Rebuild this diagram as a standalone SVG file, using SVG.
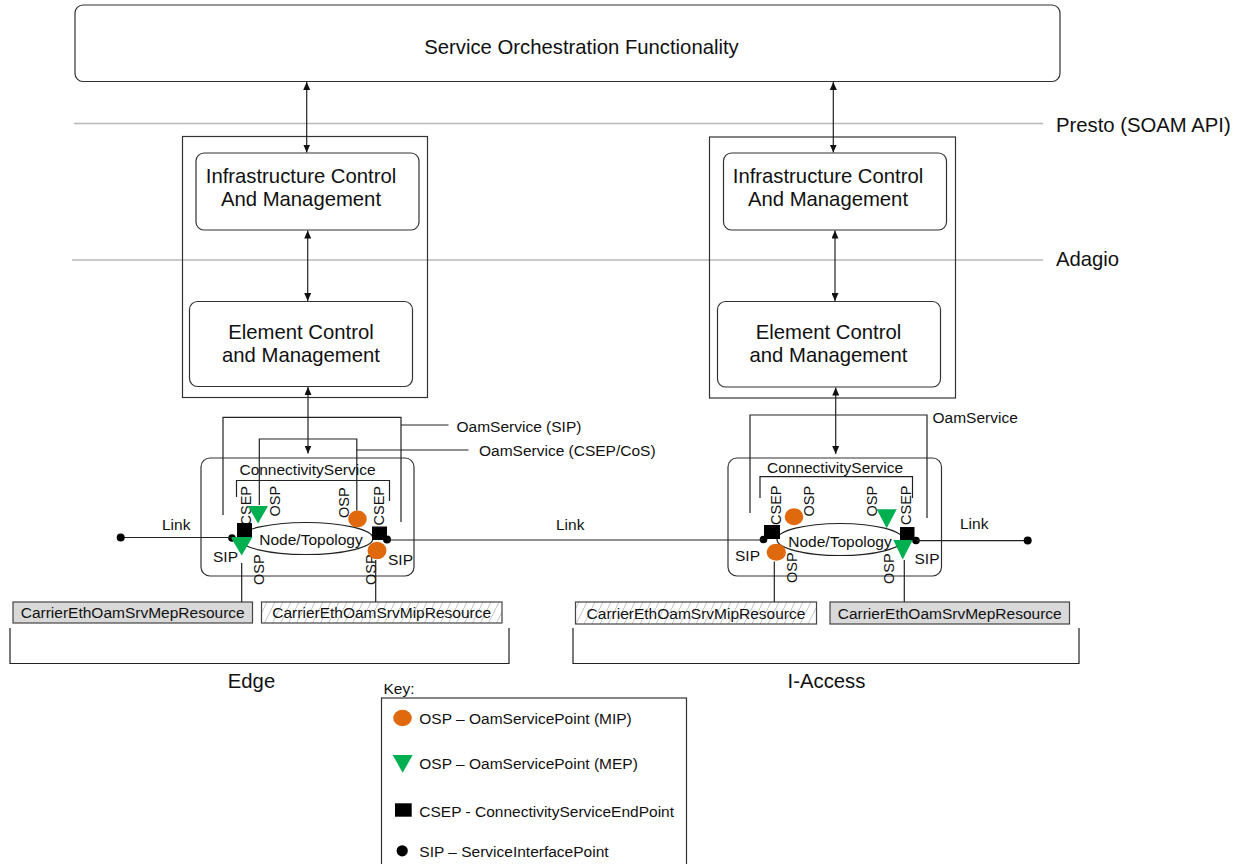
<svg xmlns="http://www.w3.org/2000/svg" width="1243" height="864" viewBox="0 0 1243 864">
<style>
text{font-family:"Liberation Sans",Arial,sans-serif;fill:#111}
.big{font-size:20.3px}
.sm{font-size:15.5px}
.rot{font-size:14.5px}
.box{fill:#fff;stroke:#333;stroke-width:1.2}
.ln{fill:none;stroke:#222;stroke-width:1.2}
.gl{fill:none;stroke:#b8b8b8;stroke-width:1.5}
.arr{fill:none;stroke:#222;stroke-width:1.2;marker-start:url(#ah);marker-end:url(#ah)}
.mip{fill:#e0690e}
.mep{fill:#00b050}
.blk{fill:#000}
.mepres{fill:#d9d9d9;stroke:#444;stroke-width:1.2}
.mipres{fill:url(#hatch);stroke:#444;stroke-width:1.2}
</style>
<defs>
<marker id="ah" viewBox="0 0 8 7" refX="8" refY="3.5" markerWidth="8" markerHeight="7" markerUnits="userSpaceOnUse" orient="auto-start-reverse">
<path d="M0,0 L8,3.5 L0,7 z" fill="#111"/>
</marker>
<pattern id="hatch" width="8" height="16" patternUnits="userSpaceOnUse">
<rect width="8" height="16" fill="#fff"/>
<path d="M0,16 L8,0" stroke="#c4c4c4" stroke-width="1"/>
</pattern>
</defs>

<g id="sof">
<rect class="box" x="75" y="5" width="985" height="76.5" rx="8"/>
<text class="big" x="581.5" y="54" text-anchor="middle">Service Orchestration Functionality</text>
</g>

<g id="interfaces">
<line class="gl" x1="74" y1="123.5" x2="1043" y2="123.5"/>
<text class="big" x="1056" y="132">Presto (SOAM API)</text>
<line class="gl" x1="72" y1="260" x2="1043" y2="260"/>
<text class="big" x="1056" y="266">Adagio</text>
</g>

<g id="edge-system">
<rect x="182.5" y="136.5" width="245" height="261" fill="none" stroke="#333" stroke-width="1.2"/>
</g>
<g id="edge-icm">
<rect class="box" x="196" y="153" width="223" height="77" rx="8"/>
<text class="big" x="301" y="182.5" text-anchor="middle">Infrastructure Control</text>
<text class="big" x="301" y="206" text-anchor="middle">And Management</text>
</g>
<g id="edge-ecm">
<rect class="box" x="189.5" y="301.5" width="223" height="85" rx="8"/>
<text class="big" x="301" y="338.5" text-anchor="middle">Element Control</text>
<text class="big" x="301" y="362" text-anchor="middle">and Management</text>
</g>

<g id="iaccess-system">
<rect x="709.5" y="137" width="246" height="261" fill="none" stroke="#333" stroke-width="1.2"/>
</g>
<g id="iaccess-icm">
<rect class="box" x="723.5" y="153" width="223" height="77" rx="8"/>
<text class="big" x="828" y="182.5" text-anchor="middle">Infrastructure Control</text>
<text class="big" x="828" y="206" text-anchor="middle">And Management</text>
</g>
<g id="iaccess-ecm">
<rect class="box" x="717.5" y="301.5" width="223" height="85.5" rx="8"/>
<text class="big" x="828.5" y="338.5" text-anchor="middle">Element Control</text>
<text class="big" x="828.5" y="362" text-anchor="middle">and Management</text>
</g>

<g id="edge-cs">
<rect class="box" x="201" y="458" width="213" height="118" rx="9"/>
<text class="sm" x="307.5" y="475" text-anchor="middle">ConnectivityService</text>
<path class="ln" d="M236.5,497 V480.5 H389.5 V501"/>
<ellipse cx="306" cy="538.5" rx="67" ry="16" fill="#fff" stroke="#222" stroke-width="1.2"/>
<text class="sm" x="311" y="545" text-anchor="middle">Node/Topology</text>
<circle class="blk" cx="232" cy="538" r="3.8"/>
<circle class="blk" cx="387" cy="539.5" r="4"/>
<text class="rot" transform="translate(250.5,525.5) rotate(-90)">CSEP</text>
<text class="rot" transform="translate(279.5,516.5) rotate(-90)">OSP</text>
<text class="rot" transform="translate(348.5,518) rotate(-90)">OSP</text>
<text class="rot" transform="translate(383.5,525.5) rotate(-90)">CSEP</text>
<text class="rot" transform="translate(263.5,585) rotate(-90)">OSP</text>
<text class="rot" transform="translate(375.5,585) rotate(-90)">OSP</text>
<text class="sm" x="213" y="562">SIP</text>
<text class="sm" x="388" y="565">SIP</text>
<rect class="blk" x="237" y="523" width="15" height="14"/>
<rect class="blk" x="372" y="526.5" width="15" height="13.5"/>
<path class="mep" d="M248,506 L268,506 L258,523.5 z"/>
<path class="mep" d="M230.5,537 L252.5,537 L241.7,555.5 z"/>
<ellipse class="mip" cx="357.5" cy="519" rx="9.3" ry="8.5"/>
<ellipse class="mip" cx="377" cy="550.5" rx="9.5" ry="8.8"/>
</g>

<g id="iaccess-cs">
<rect class="box" x="728" y="458" width="213.5" height="118" rx="9"/>
<text class="sm" x="835" y="472.5" text-anchor="middle">ConnectivityService</text>
<path class="ln" d="M760,498 V476.7 H912.5 V498"/>
<ellipse cx="840" cy="539.5" rx="63" ry="16" fill="#fff" stroke="#222" stroke-width="1.2"/>
<text class="sm" x="840" y="546.5" text-anchor="middle">Node/Topology</text>
<circle class="blk" cx="763.5" cy="539.5" r="3.8"/>
<circle class="blk" cx="916" cy="540.5" r="3.8"/>
<text class="rot" transform="translate(780.5,525) rotate(-90)">CSEP</text>
<text class="rot" transform="translate(813.5,516.5) rotate(-90)">OSP</text>
<text class="rot" transform="translate(877,516.5) rotate(-90)">OSP</text>
<text class="rot" transform="translate(911,525) rotate(-90)">CSEP</text>
<text class="rot" transform="translate(797,583) rotate(-90)">OSP</text>
<text class="rot" transform="translate(893.5,584) rotate(-90)">OSP</text>
<text class="sm" x="735" y="560.5">SIP</text>
<text class="sm" x="914.5" y="563.5">SIP</text>
<rect class="blk" x="764" y="525" width="16" height="14"/>
<rect class="blk" x="900" y="527" width="14.5" height="13"/>
<ellipse class="mip" cx="794" cy="516.7" rx="9.3" ry="8.5"/>
<ellipse class="mip" cx="776.3" cy="552.3" rx="9.6" ry="8.5"/>
<path class="mep" d="M876.7,509.3 L896.7,509.3 L886.7,528.3 z"/>
<path class="mep" d="M893.3,540 L912.7,540 L902.7,559.5 z"/>
</g>

<g id="edge-mep-resource">
<rect class="mepres" x="13" y="602" width="239.5" height="21"/>
<text class="sm" x="132.7" y="618" text-anchor="middle">CarrierEthOamSrvMepResource</text>
</g>
<g id="edge-mip-resource">
<rect class="mipres" x="261.5" y="602" width="240.5" height="21"/>
<text class="sm" x="381.7" y="618" text-anchor="middle">CarrierEthOamSrvMipResource</text>
</g>
<g id="iaccess-mip-resource">
<rect class="mipres" x="575.5" y="602" width="241" height="22"/>
<text class="sm" x="696" y="618.5" text-anchor="middle">CarrierEthOamSrvMipResource</text>
</g>
<g id="iaccess-mep-resource">
<rect class="mepres" x="830" y="602" width="239.5" height="22"/>
<text class="sm" x="949.7" y="618.5" text-anchor="middle">CarrierEthOamSrvMepResource</text>
</g>

<g id="edge-group">
<path class="ln" d="M10,628 V663.5 H509 V628"/>
<text class="big" x="251.5" y="688" text-anchor="middle">Edge</text>
</g>
<g id="iaccess-group">
<path class="ln" d="M573,628 V663.5 H1079 V628"/>
<text class="big" x="826.5" y="688" text-anchor="middle">I-Access</text>
</g>

<g id="connectors">
<line class="arr" x1="306.7" y1="82" x2="306.7" y2="152.5"/>
<line class="arr" x1="307.7" y1="230.5" x2="307.7" y2="301"/>
<line class="arr" x1="308" y1="387" x2="308" y2="453.5"/>
<line class="arr" x1="833.3" y1="82" x2="833.3" y2="152.5"/>
<line class="arr" x1="835" y1="230.5" x2="835" y2="301"/>
<line class="arr" x1="835.7" y1="387.5" x2="835.7" y2="454"/>
<path class="ln" d="M223,515 V417.3 H401 V522"/>
<line class="ln" x1="401" y1="425" x2="448.5" y2="425"/>
<text class="sm" x="456.5" y="431.5">OamService (SIP)</text>
<path class="ln" d="M259.3,505 V439 H356.8 V510.5"/>
<line class="ln" x1="356.8" y1="450" x2="468.5" y2="450"/>
<text class="sm" x="479" y="456">OamService (CSEP/CoS)</text>
<path class="ln" d="M750,513 V415 H927 V518"/>
<text class="sm" x="932.5" y="423">OamService</text>
<line class="ln" x1="120.7" y1="537.5" x2="232" y2="537.5"/>
<circle class="blk" cx="120.7" cy="537.5" r="4"/>
<text class="sm" x="162" y="529.5">Link</text>
<line class="ln" x1="387" y1="540" x2="763.5" y2="540"/>
<text class="sm" x="556" y="529.5">Link</text>
<line class="ln" x1="916" y1="540.6" x2="1027.7" y2="540.6"/>
<circle class="blk" cx="1027.7" cy="540.6" r="4"/>
<text class="sm" x="960" y="528.5">Link</text>
<line class="ln" x1="241.7" y1="563" x2="241.7" y2="602"/>
<line class="ln" x1="375.7" y1="560" x2="375.7" y2="602"/>
<line class="ln" x1="774.3" y1="561.5" x2="774.3" y2="602"/>
<line class="ln" x1="904.3" y1="560" x2="904.3" y2="602"/>
</g>

<g id="key">
<text class="sm" x="383.5" y="694">Key:</text>
<rect x="381.5" y="698" width="305" height="190" fill="#fff" stroke="#333" stroke-width="1.2"/>
<ellipse class="mip" cx="402.5" cy="718" rx="9.3" ry="8.3"/>
<text class="sm" x="419.3" y="723.5">OSP – OamServicePoint (MIP)</text>
<path class="mep" d="M392.7,755 L412.7,755 L402.7,772.7 z"/>
<text class="sm" x="419.3" y="769">OSP – OamServicePoint (MEP)</text>
<rect class="blk" x="395" y="803.3" width="16.7" height="13.4"/>
<text class="sm" x="419.3" y="816.5">CSEP - ConnectivityServiceEndPoint</text>
<circle class="blk" cx="402.2" cy="850.8" r="5.6"/>
<text class="sm" x="419.3" y="856.5">SIP – ServiceInterfacePoint</text>
</g>
</svg>
